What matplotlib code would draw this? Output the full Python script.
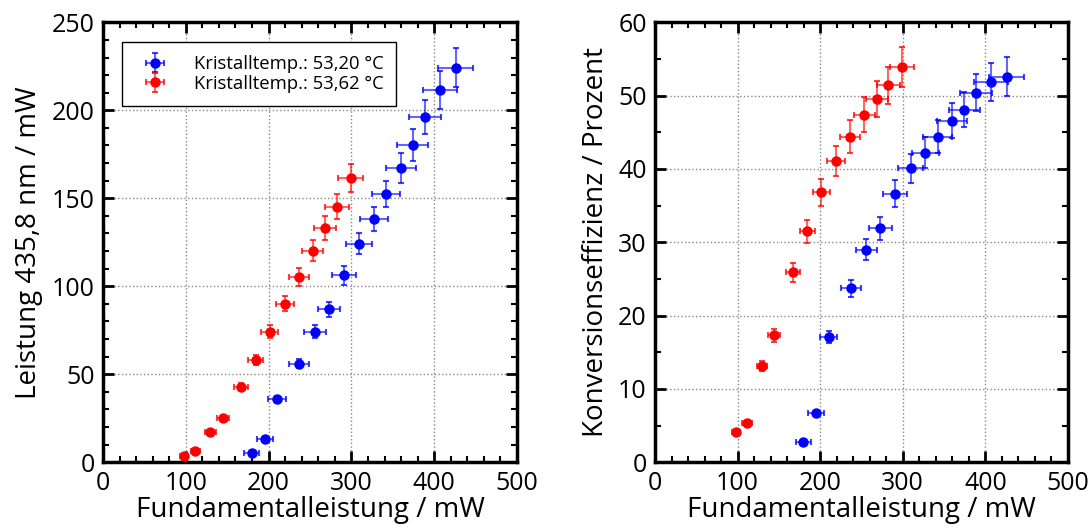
import matplotlib.pyplot as plt
from matplotlib.ticker import MultipleLocator

plt.rcParams['font.family'] = ['Open Sans', 'DejaVu Sans']

# Fundamentalleistung / mW
fund_53_20 = [179.6, 195.3, 210.1, 237.1, 256.0, 273.0, 290.7, 309.5, 327.3,
              342.1, 359.5, 374.4, 388.9, 407.0, 426.0]
fund_53_62 = [97.8, 111.5, 129.6, 144.6, 166.7, 184.4, 201.3, 219.4, 236.4,
              253.6, 268.5, 282.6, 299.2]

# Leistung 435,8 nm / mW
shg_53_20 = [5.1, 13.1, 36.0, 56.1, 74.1, 87.0, 106.2, 124.3, 138.3,
             152.4, 167.3, 180.4, 196.3, 211.5, 224.3]
shg_53_62 = [3.8, 6.2, 17.1, 25.0, 43.0, 58.0, 74.1, 90.2, 105.2,
             120.3, 133.2, 145.3, 161.5]

# Konversionseffizienz / Prozent
eff_53_20 = [2.8, 6.7, 17.1, 23.7, 29.0, 31.9, 36.6, 40.1, 42.2,
             44.4, 46.6, 48.1, 50.4, 51.9, 52.6]
eff_53_62 = [4.1, 5.4, 13.1, 17.3, 25.9, 31.5, 36.8, 41.1, 44.4,
             47.4, 49.5, 51.4, 53.9]

labels = ['Kristalltemp.: 53,20 °C', 'Kristalltemp.: 53,62 °C']
rel_err = 0.05


def style_axes(ax, ymax, ymajor, yminor):
    ax.set_xlim(0, 500)
    ax.set_ylim(0, ymax)
    ax.xaxis.set_major_locator(MultipleLocator(100))
    ax.xaxis.set_minor_locator(MultipleLocator(20))
    ax.yaxis.set_major_locator(MultipleLocator(ymajor))
    ax.yaxis.set_minor_locator(MultipleLocator(yminor))
    ax.tick_params(which='both', direction='in', top=True, right=True,
                   labelsize=18, pad=6)
    ax.tick_params(which='major', length=8, width=2)
    ax.tick_params(which='minor', length=4, width=1.5)
    for sp in ax.spines.values():
        sp.set_linewidth(2.5)
    ax.grid(which='major', color='#888888', linestyle=':', linewidth=1)
    ax.set_axisbelow(True)
    ax.set_xlabel('Fundamentalleistung / mW', fontsize=20, labelpad=0)


def plot_series(ax, x, y, color, label):
    xerr = [v * rel_err for v in x]
    yerr = [v * rel_err for v in y]
    eb = ax.errorbar(x, y, xerr=xerr, yerr=yerr, fmt='o', color=color,
                     markersize=6.5, elinewidth=1.5, capsize=2.5, capthick=1.5,
                     label=label, zorder=3)
    for ln in eb[1]:
        ln.set_alpha(0.75)
    for ln in eb[2]:
        ln.set_alpha(0.6)
    return eb


fig = plt.figure(figsize=(10.9, 5.31), dpi=100)
ax1 = fig.add_axes([0.0945, 0.1294, 0.3798, 0.8286])
ax2 = fig.add_axes([0.6009, 0.1294, 0.3789, 0.8286])

plot_series(ax1, fund_53_20, shg_53_20, 'blue', labels[0])
plot_series(ax1, fund_53_62, shg_53_62, 'red', labels[1])
style_axes(ax1, 250, 50, 10)
ax1.set_ylabel('Leistung 435,8 nm / mW', fontsize=20, labelpad=6)
leg = ax1.legend(loc='upper left', bbox_to_anchor=(0.045, 0.955),
                 fontsize=13.3, fancybox=False, edgecolor='black',
                 framealpha=1, borderpad=0.7, handletextpad=1.0,
                 handlelength=2.2, labelspacing=0.1, borderaxespad=0)
leg.get_frame().set_linewidth(1)

plot_series(ax2, fund_53_20, eff_53_20, 'blue', labels[0])
plot_series(ax2, fund_53_62, eff_53_62, 'red', labels[1])
style_axes(ax2, 60, 10, 5)
ax2.set_ylabel('Konversionseffizienz / Prozent', fontsize=20, labelpad=6)

plt.savefig('out.png', dpi=100)
